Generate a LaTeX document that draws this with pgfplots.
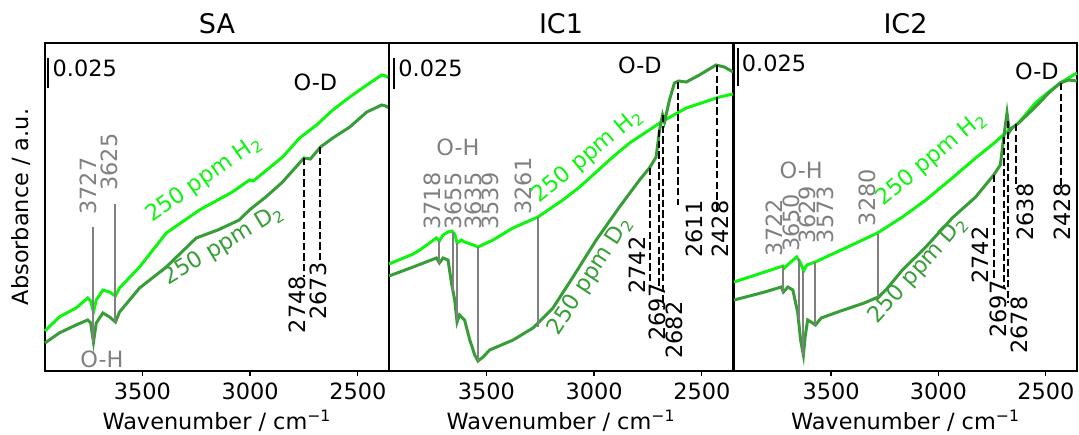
\documentclass[border=0pt]{standalone}
\usepackage{pgfplots}
\pgfplotsset{compat=1.18}
\usepackage{fontspec}
\setmainfont{DejaVu Sans}
\definecolor{hcol}{RGB}{15,245,15}
\definecolor{dcol}{RGB}{55,158,55}
\definecolor{gcol}{RGB}{128,128,128}
\newcommand{\fs}{\fontsize{11.2}{13}\selectfont}
\pgfplotsset{
  panel/.style={
    scale only axis, width=172pt, height=164pt,
    xmin=2355, xmax=3952, x dir=reverse, ymin=0, ymax=328,
    xtick={2500,3000,3500}, ytick=\empty, xtick pos=bottom,
    tick align=outside, major tick length=2.5pt,
    xtick style={black, line width=0.6pt},
    axis line style={line width=0.6pt},
    /pgf/number format/assume math mode=true,
    /pgf/number format/1000 sep={},
    xticklabel style={font=\fs, anchor=base, yshift=-11.7pt},
    xlabel={Wavenumber / cm\textsuperscript{−1}},
    xlabel style={font=\fs, at={(axis description cs:0.5,0)}, anchor=base, yshift=-29pt},
    title style={font=\fontsize{13.5}{15}\selectfont, at={(axis description cs:0.5,1)}, anchor=base, yshift=-1.5pt},
    clip=false,
  },
}
\tikzset{
  hline/.style={hcol, line width=1.5pt},
  dline/.style={dcol, line width=1.5pt},
  gl/.style={gcol, line width=1pt},
  dl/.style={black, line width=1pt, dash pattern=on 3.7pt off 1.6pt},
  gt/.style={gcol, rotate=90, font=\fs, inner sep=0pt},
  bt/.style={black, rotate=90, font=\fs, inner sep=0pt},
}
\begin{document}
\begin{tikzpicture}
% ---------------- SA ----------------
\begin{axis}[panel, at={(0pt,0pt)}, title={SA},
  ylabel={Absorbance / a.u.},
  ylabel style={font=\fs, at={(axis description cs:-0.0698,0.5)}, anchor=center}]
\addplot[hline] coordinates {
(3952,40) (3886,54) (3808,63) (3754,73) (3740,70) (3727,59) (3714,71) (3683,81) (3652,79) (3625,75) (3606,83) (3513,104) (3389,138) (3235,161) (3082,179) (3003,191) (2985,190) (2849,214) (2770,233) (2691,246) (2616,261) (2537,274) (2458,286) (2389,296) (2370,295) (2355,293)
};
\addplot[dline] coordinates {
(3952,28) (3886,38) (3808,46) (3754,51) (3740,48) (3727,29) (3714,48) (3683,58) (3652,54) (3625,49) (3606,59) (3513,83) (3389,104) (3250,133) (3150,141) (3050,151) (3003,161) (2927,174) (2849,189) (2750,213) (2720,212) (2673,224) (2616,233) (2537,244) (2458,259) (2389,266) (2370,265) (2355,263)
};
\draw[gl] (axis cs:3727,144) -- (axis cs:3727,29);
\draw[gl] (axis cs:3625,167) -- (axis cs:3625,49);
\node[gt] at (axis cs:3753,185) {3727};
\node[gt] at (axis cs:3652,209) {3625};
\node[gcol, font=\fs] at (axis cs:3688,12) {O-H};
\draw[dl] (axis cs:2748,213) -- (axis cs:2748,94);
\draw[dl] (axis cs:2673,224) -- (axis cs:2673,108);
\node[bt] at (axis cs:2782,66.5) {2748};
\node[bt] at (axis cs:2683,80) {2673};
\node[font=\fs] at (axis cs:2697,289) {O-D};
\draw[black, line width=1pt] (axis cs:3937,283) -- (axis cs:3937,313);
\node[font=\fs, anchor=west, inner sep=0pt] at (axis cs:3918,303) {0.025};
\node[hcol, font=\fs, rotate=35] at (axis cs:3214,192) {250 ppm H\textsubscript{2}};
\node[dcol, font=\fs, rotate=31] at (axis cs:3124,126) {250 ppm D\textsubscript{2}};
\end{axis}
% ---------------- IC1 ----------------
\begin{axis}[panel, at={(172pt,0pt)}, title={IC1}]
\addplot[hline] coordinates {
(3952,107) (3840,117) (3809,121) (3732,133) (3718,130) (3701,136) (3678,139) (3660,140) (3647,137) (3636,128) (3616,131) (3601,129) (3560,126) (3539,124) (3469,131) (3377,143) (3261,154) (3145,171) (3067,184) (2990,199) (2913,214) (2835,228) (2758,239) (2688,249) (2572,263) (2418,274) (2355,277)
};
\addplot[dline] coordinates {
(3952,95) (3840,104) (3732,113) (3718,108) (3701,113) (3678,111) (3662,88) (3647,71) (3636,49) (3625,56) (3601,51) (3577,31) (3554,16) (3539,10) (3515,14) (3485,21) (3376,31) (3284,43) (3191,63) (3098,94) (2990,131) (2882,164) (2789,191) (2743,203) (2712,214) (2696,241) (2682,256) (2673,249) (2650,271) (2627,288) (2607,290) (2572,289) (2511,296) (2434,306) (2395,304) (2355,299)
};
\draw[gl] (axis cs:3718,130) -- (axis cs:3718,108);
\draw[gl] (axis cs:3655,139) -- (axis cs:3655,80);
\draw[gl] (axis cs:3635,128) -- (axis cs:3635,50);
\draw[gl] (axis cs:3539,124) -- (axis cs:3539,10);
\draw[gl] (axis cs:3261,154) -- (axis cs:3261,44);
\node[gt] at (axis cs:3752,170) {3718};
\node[gt] at (axis cs:3652,170) {3655};
\node[gt] at (axis cs:3562,170) {3635};
\node[gt] at (axis cs:3481,170) {3539};
\node[gt] at (axis cs:3330,185) {3261};
\node[gcol, font=\fs] at (axis cs:3632,224) {O-H};
\draw[dl] (axis cs:2742,203) -- (axis cs:2742,83);
\draw[dl] (axis cs:2697,241) -- (axis cs:2697,83);
\draw[dl] (axis cs:2682,256) -- (axis cs:2682,64);
\draw[dl] (axis cs:2611,289) -- (axis cs:2611,166);
\draw[dl] (axis cs:2428,306) -- (axis cs:2428,158);
\node[bt] at (axis cs:2801,106) {2742};
\node[bt] at (axis cs:2706,59) {2697};
\node[bt] at (axis cs:2627,41) {2682};
\node[bt] at (axis cs:2533,142) {2611};
\node[bt] at (axis cs:2413,142) {2428};
\node[font=\fs] at (axis cs:2787,306) {O-D};
\draw[black, line width=1pt] (axis cs:3930,282) -- (axis cs:3930,313);
\node[font=\fs, anchor=west, inner sep=0pt] at (axis cs:3910,303) {0.025};
\node[hcol, font=\fs, rotate=40] at (axis cs:3029,215) {250 ppm H\textsubscript{2}};
\node[dcol, font=\fs, rotate=57] at (axis cs:3018,95) {250 ppm D\textsubscript{2}};
\end{axis}
% ---------------- IC2 ----------------
\begin{axis}[panel, at={(344.5pt,0pt)}, width=171.5pt, title={IC2}]
\addplot[hline] coordinates {
(3952,89) (3880,94) (3809,99) (3724,105) (3717,103) (3693,108) (3660,114) (3642,108) (3628,100) (3613,106) (3574,109) (3423,124) (3284,138) (3168,154) (3059,171) (2936,193) (2827,213) (2735,229) (2688,238) (2627,248) (2549,268) (2487,279) (2433,288) (2395,293) (2355,298)
};
\addplot[dline] coordinates {
(3952,71) (3880,75) (3809,79) (3732,84) (3722,79) (3701,84) (3678,81) (3655,58) (3642,31) (3629,16) (3621,34) (3609,51) (3593,49) (3573,46) (3546,53) (3469,59) (3346,68) (3280,74) (3245,81) (3168,101) (3059,124) (2936,153) (2827,174) (2743,196) (2712,206) (2696,234) (2681,258) (2670,239) (2658,243) (2627,248) (2549,264) (2487,278) (2433,288) (2395,291) (2355,290)
};
\draw[gl] (axis cs:3722,105) -- (axis cs:3722,79);
\draw[gl] (axis cs:3650,112) -- (axis cs:3650,51);
\draw[gl] (axis cs:3629,100) -- (axis cs:3629,16);
\draw[gl] (axis cs:3573,109) -- (axis cs:3573,46);
\draw[gl] (axis cs:3280,137) -- (axis cs:3280,74);
\node[gt] at (axis cs:3763,143.5) {3722};
\node[gt] at (axis cs:3686,148) {3650};
\node[gt] at (axis cs:3609,156.5) {3629};
\node[gt] at (axis cs:3526,156.5) {3573};
\node[gt] at (axis cs:3330,173.5) {3280};
\node[gcol, font=\fs] at (axis cs:3639,201) {O-H};
\draw[dl] (axis cs:2742,196) -- (axis cs:2742,93);
\draw[dl] (axis cs:2697,234) -- (axis cs:2697,83);
\draw[dl] (axis cs:2678,250) -- (axis cs:2678,68);
\draw[dl] (axis cs:2638,247) -- (axis cs:2638,183);
\draw[dl] (axis cs:2428,288) -- (axis cs:2428,183);
\node[bt] at (axis cs:2804,116) {2742};
\node[bt] at (axis cs:2719,62) {2697};
\node[bt] at (axis cs:2622,46) {2678};
\node[bt] at (axis cs:2596,159) {2638};
\node[bt] at (axis cs:2423,159) {2428};
\node[font=\fs] at (axis cs:2542,300) {O-D};
\draw[black, line width=1pt] (axis cs:3933,285) -- (axis cs:3933,323);
\node[font=\fs, anchor=west, inner sep=0pt] at (axis cs:3917,308) {0.025};
\node[hcol, font=\fs, rotate=40] at (axis cs:3033,212) {250 ppm H\textsubscript{2}};
\node[dcol, font=\fs, rotate=48] at (axis cs:3095,101) {250 ppm D\textsubscript{2}};
\end{axis}
\pgfresetboundingbox
\useasboundingbox (-22.5pt,-31.5pt) rectangle (517pt,185.5pt);
\end{tikzpicture}
\end{document}
